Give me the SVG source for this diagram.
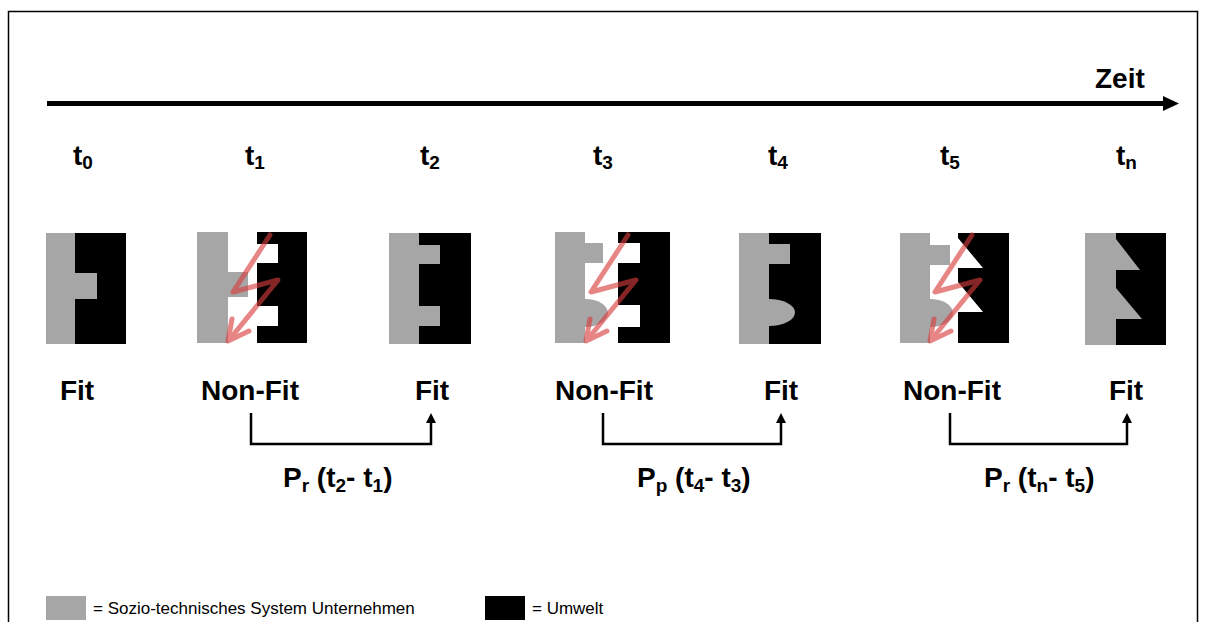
<svg xmlns="http://www.w3.org/2000/svg" width="1206" height="622" viewBox="0 0 1206 622">
  <style>
    .sys { fill: #a6a6a6; }
    .env { fill: #000; }
    .lbl { font-family: "Liberation Sans", Arial, sans-serif; font-weight: bold; font-size: 28px; fill: #000; }
    .sub { font-size: 19px; }
    .leg { font-family: "Liberation Sans", Arial, sans-serif; font-size: 17px; fill: #000; }
    .bolt { fill: none; stroke: #d93c3c; stroke-width: 5; stroke-linejoin: round; stroke-linecap: round; }
    .span { fill: none; stroke: #000; stroke-width: 2.5; }
  </style>
  <defs>
    <!-- lightning strike: disturbance between system and environment -->
    <g id="bolt-shape" opacity="0.62">
      <path class="bolt" d="M270,235 L233,292 L278,280 L229,340"/>
      <path class="bolt" d="M232,319 L228,341 L249,331"/>
    </g>
  </defs>

  <rect width="1206" height="622" fill="#fff"/>
  <rect x="8.5" y="11.5" width="1189" height="625" fill="none" stroke="#000" stroke-width="1.5"/>

  <!-- time axis -->
  <g id="axis">
    <line x1="47" y1="103.5" x2="1165" y2="103.5" stroke="#000" stroke-width="5"/>
    <polygon points="1163,96 1179,103.5 1163,111" fill="#000"/>
    <text class="lbl" x="1095" y="88" font-size="31">Zeit</text>
  </g>

  <!-- time points -->
  <g id="time-labels">
    <text class="lbl" x="73" y="165">t<tspan class="sub" dy="4">0</tspan></text>
    <text class="lbl" x="245" y="165">t<tspan class="sub" dy="4">1</tspan></text>
    <text class="lbl" x="420" y="165">t<tspan class="sub" dy="4">2</tspan></text>
    <text class="lbl" x="593" y="165">t<tspan class="sub" dy="4">3</tspan></text>
    <text class="lbl" x="768" y="165">t<tspan class="sub" dy="4">4</tspan></text>
    <text class="lbl" x="940" y="165">t<tspan class="sub" dy="4">5</tspan></text>
    <text class="lbl" x="1116" y="165">t<tspan class="sub" dy="4">n</tspan></text>
  </g>

  <!-- t0: fit -->
  <g id="state-t0">
    <rect class="sys" x="46" y="233" width="29" height="111"/>
    <rect class="env" x="75" y="233" width="51" height="111"/>
    <rect class="sys" x="75" y="273" width="22" height="26"/>
    <text class="lbl" x="77" y="400" text-anchor="middle">Fit</text>
  </g>

  <!-- t1: non-fit -->
  <g id="state-t1">
    <rect class="sys" x="197" y="232" width="31" height="111"/>
    <rect class="sys" x="228" y="272" width="20" height="25"/>
    <path class="env" d="M257,232 H307 V343 H257 V326 H278 V306 H257 V263 H278 V244 H257 Z"/>
    <use href="#bolt-shape"/>
    <text class="lbl" x="250" y="400" text-anchor="middle">Non-Fit</text>
  </g>

  <!-- t2: fit -->
  <g id="state-t2">
    <rect class="sys" x="389" y="233" width="30" height="111"/>
    <rect class="env" x="419" y="233" width="52" height="111"/>
    <rect class="sys" x="419" y="245" width="21" height="19"/>
    <rect class="sys" x="419" y="306" width="21" height="20"/>
    <text class="lbl" x="432" y="400" text-anchor="middle">Fit</text>
  </g>

  <!-- t3: non-fit -->
  <g id="state-t3">
    <rect class="sys" x="555" y="232" width="30" height="111"/>
    <rect class="sys" x="585" y="243" width="18" height="20"/>
    <path class="sys" d="M585,299 A23,14 0 0 1 585,327 Z"/>
    <path class="env" d="M618,232 H670 V343 H618 V327 H640 V305 H618 V263 H640 V243 H618 Z"/>
    <use href="#bolt-shape" transform="translate(358,0)"/>
    <text class="lbl" x="604" y="400" text-anchor="middle">Non-Fit</text>
  </g>

  <!-- t4: fit -->
  <g id="state-t4">
    <rect class="sys" x="739" y="233" width="30" height="111"/>
    <rect class="env" x="769" y="233" width="52" height="111"/>
    <rect class="sys" x="769" y="244" width="21" height="20"/>
    <path class="sys" d="M769,299 A26,13.5 0 0 1 769,326 Z"/>
    <text class="lbl" x="781" y="400" text-anchor="middle">Fit</text>
  </g>

  <!-- t5: non-fit -->
  <g id="state-t5">
    <rect class="sys" x="900" y="233" width="30" height="110"/>
    <rect class="sys" x="930" y="245" width="20" height="20"/>
    <path class="sys" d="M930,299 A23,14 0 0 1 930,327 Z"/>
    <path class="env" d="M958,233 H1009 V343 H958 V312 H983 L958,282 V268 H983 L958,238 Z"/>
    <use href="#bolt-shape" transform="translate(702,0)"/>
    <text class="lbl" x="952" y="400" text-anchor="middle">Non-Fit</text>
  </g>

  <!-- tn: fit -->
  <g id="state-tn">
    <rect class="sys" x="1085" y="233" width="31" height="112"/>
    <rect class="env" x="1116" y="233" width="50" height="112"/>
    <polygon class="sys" points="1116,239 1140,270 1116,270"/>
    <polygon class="sys" points="1116,288 1142,319 1116,319"/>
    <text class="lbl" x="1126" y="400" text-anchor="middle">Fit</text>
  </g>

  <!-- adaptation periods -->
  <g id="connectors">
    <path class="span" d="M251,413 V444 H431 V421"/>
    <polygon points="431,413 426,423 436,423" fill="#000"/>
    <path class="span" d="M603,413 V444 H781 V421"/>
    <polygon points="781,413 776,423 786,423" fill="#000"/>
    <path class="span" d="M950,413 V444 H1127 V421"/>
    <polygon points="1127,413 1122,423 1132,423" fill="#000"/>
  </g>

  <g id="period-labels">
    <text class="lbl" x="283" y="487">P<tspan class="sub" dy="5">r</tspan><tspan dy="-5"> (t</tspan><tspan class="sub" dy="5">2</tspan><tspan dy="-5">- t</tspan><tspan class="sub" dy="5">1</tspan><tspan dy="-5">)</tspan></text>
    <text class="lbl" x="637" y="487">P<tspan class="sub" dy="5">p</tspan><tspan dy="-5"> (t</tspan><tspan class="sub" dy="5">4</tspan><tspan dy="-5">- t</tspan><tspan class="sub" dy="5">3</tspan><tspan dy="-5">)</tspan></text>
    <text class="lbl" x="984" y="487">P<tspan class="sub" dy="5">r</tspan><tspan dy="-5"> (t</tspan><tspan class="sub" dy="5">n</tspan><tspan dy="-5">- t</tspan><tspan class="sub" dy="5">5</tspan><tspan dy="-5">)</tspan></text>
  </g>

  <!-- legend -->
  <g id="legend">
    <rect class="sys" x="46" y="596" width="40" height="24"/>
    <text class="leg" x="93" y="614">= Sozio-technisches System Unternehmen</text>
    <rect class="env" x="485" y="596" width="40" height="24"/>
    <text class="leg" x="532" y="614">= Umwelt</text>
  </g>
</svg>
